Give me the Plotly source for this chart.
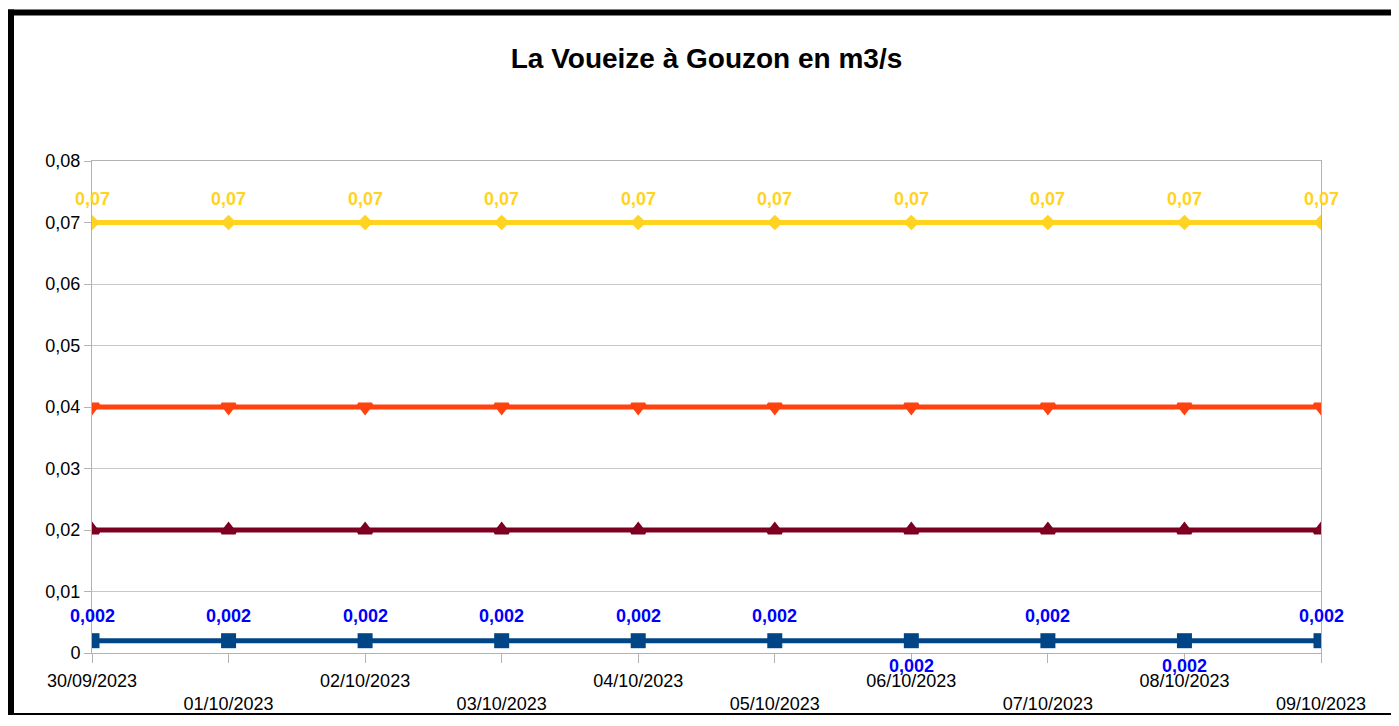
import plotly.graph_objects as go

dates = ["30/09/2023", "01/10/2023", "02/10/2023", "03/10/2023", "04/10/2023",
         "05/10/2023", "06/10/2023", "07/10/2023", "08/10/2023", "09/10/2023"]
serie_jaune = [0.07] * 10
serie_orange = [0.04] * 10
serie_bordeaux = [0.02] * 10
serie_bleue = [0.002] * 10
label_jaune = ["0,07"] * 10
label_bleue = ["0,002"] * 10
bleue_label_side = [1, 1, 1, 1, 1, 1, -1, 1, -1, 1]
y_ticks = [0, 0.01, 0.02, 0.03, 0.04, 0.05, 0.06, 0.07, 0.08]
y_ticktext = ["0", "0,01", "0,02", "0,03", "0,04", "0,05", "0,06", "0,07", "0,08"]

FONT = "Liberation Sans, Arial, sans-serif"
xs = list(range(len(dates)))

# page body has an 8px margin: figure is 1391x718, placed at (8, 8)
W, H = 1391, 718
PL, PR, PT, PB = 84, 1313, 153, 653  # plot area in figure pixels

fig = go.Figure()
fig.add_trace(go.Scatter(x=xs, y=serie_bleue, mode="lines+markers",
                         line=dict(color="#004586", width=5),
                         marker=dict(symbol="square", size=15, color="#004586")))
fig.add_trace(go.Scatter(x=xs, y=serie_bordeaux, mode="lines+markers",
                         line=dict(color="#7E0021", width=5),
                         marker=dict(symbol="triangle-up", size=12, color="#7E0021",
                                     line=dict(color="#7E0021", width=3))))
fig.add_trace(go.Scatter(x=xs, y=serie_orange, mode="lines+markers",
                         line=dict(color="#FF420E", width=5),
                         marker=dict(symbol="triangle-down", size=12, color="#FF420E",
                                     line=dict(color="#FF420E", width=3))))
fig.add_trace(go.Scatter(x=xs, y=serie_jaune, mode="lines+markers",
                         line=dict(color="#FFD320", width=5),
                         marker=dict(symbol="diamond", size=12, color="#FFD320")))

annotations = []
for i, (v, t) in enumerate(zip(serie_jaune, label_jaune)):
    annotations.append(dict(x=i, y=v, text="<b>%s</b>" % t, showarrow=False,
                            yshift=24, font=dict(family=FONT, size=18, color="#FFD320")))
for i, (v, t, s) in enumerate(zip(serie_bleue, label_bleue, bleue_label_side)):
    annotations.append(dict(x=i, y=v, text="<b>%s</b>" % t, showarrow=False,
                            yshift=25 if s > 0 else -25,
                            font=dict(family=FONT, size=18, color="#0000FF")))

ticktext = [d if i % 2 == 0 else "<br>" + d for i, d in enumerate(dates)]


def px_x(p):
    return (p - PL) / float(PR - PL)


def px_y(p):
    return (PB - p) / float(PB - PT)


shapes = [
    dict(type="line", xref="paper", yref="paper", x0=px_x(3), x1=px_x(3),
         y0=px_y(-1), y1=px_y(716), line=dict(color="black", width=6)),
    dict(type="line", xref="paper", yref="paper", x0=px_x(0), x1=px_x(1389),
         y0=px_y(2), y1=px_y(2), line=dict(color="black", width=6)),
    dict(type="line", xref="paper", yref="paper", x0=px_x(1388), x1=px_x(1388),
         y0=px_y(0), y1=px_y(716), line=dict(color="black", width=2)),
    dict(type="line", xref="paper", yref="paper", x0=px_x(0), x1=px_x(1389),
         y0=px_y(715), y1=px_y(715), line=dict(color="black", width=2)),
]

fig.update_layout(
    width=W, height=H,
    margin=dict(l=PL, r=W - PR, t=PT, b=H - PB),
    paper_bgcolor="white", plot_bgcolor="white",
    showlegend=False,
    title=dict(text="<b>La Voueize à Gouzon en m3/s</b>", x=0.5, xref="paper",
               xanchor="center", y=1 - 50 / float(H), yanchor="middle",
               font=dict(family=FONT, size=28, color="black")),
    font=dict(family=FONT, size=18, color="black"),
    annotations=annotations,
    shapes=shapes,
)
fig.update_xaxes(range=[0, 9], tickvals=xs, ticktext=ticktext,
                 showgrid=False, zeroline=False,
                 showline=True, mirror=True, linecolor="#b3b3b3", linewidth=1,
                 ticks="outside", ticklen=9, tickcolor="#b3b3b3",
                 ticklabelstandoff=2,
                 tickfont=dict(family=FONT, size=18, color="black"))
fig.update_yaxes(range=[0, 0.08], tickvals=y_ticks, ticktext=y_ticktext,
                 showgrid=True, gridcolor="#c8c8c8", gridwidth=1, zeroline=False,
                 showline=True, mirror=True, linecolor="#b3b3b3", linewidth=1,
                 ticks="outside", ticklen=7, tickcolor="#b3b3b3",
                 tickfont=dict(family=FONT, size=18, color="black"))

fig.write_html("out.html")
